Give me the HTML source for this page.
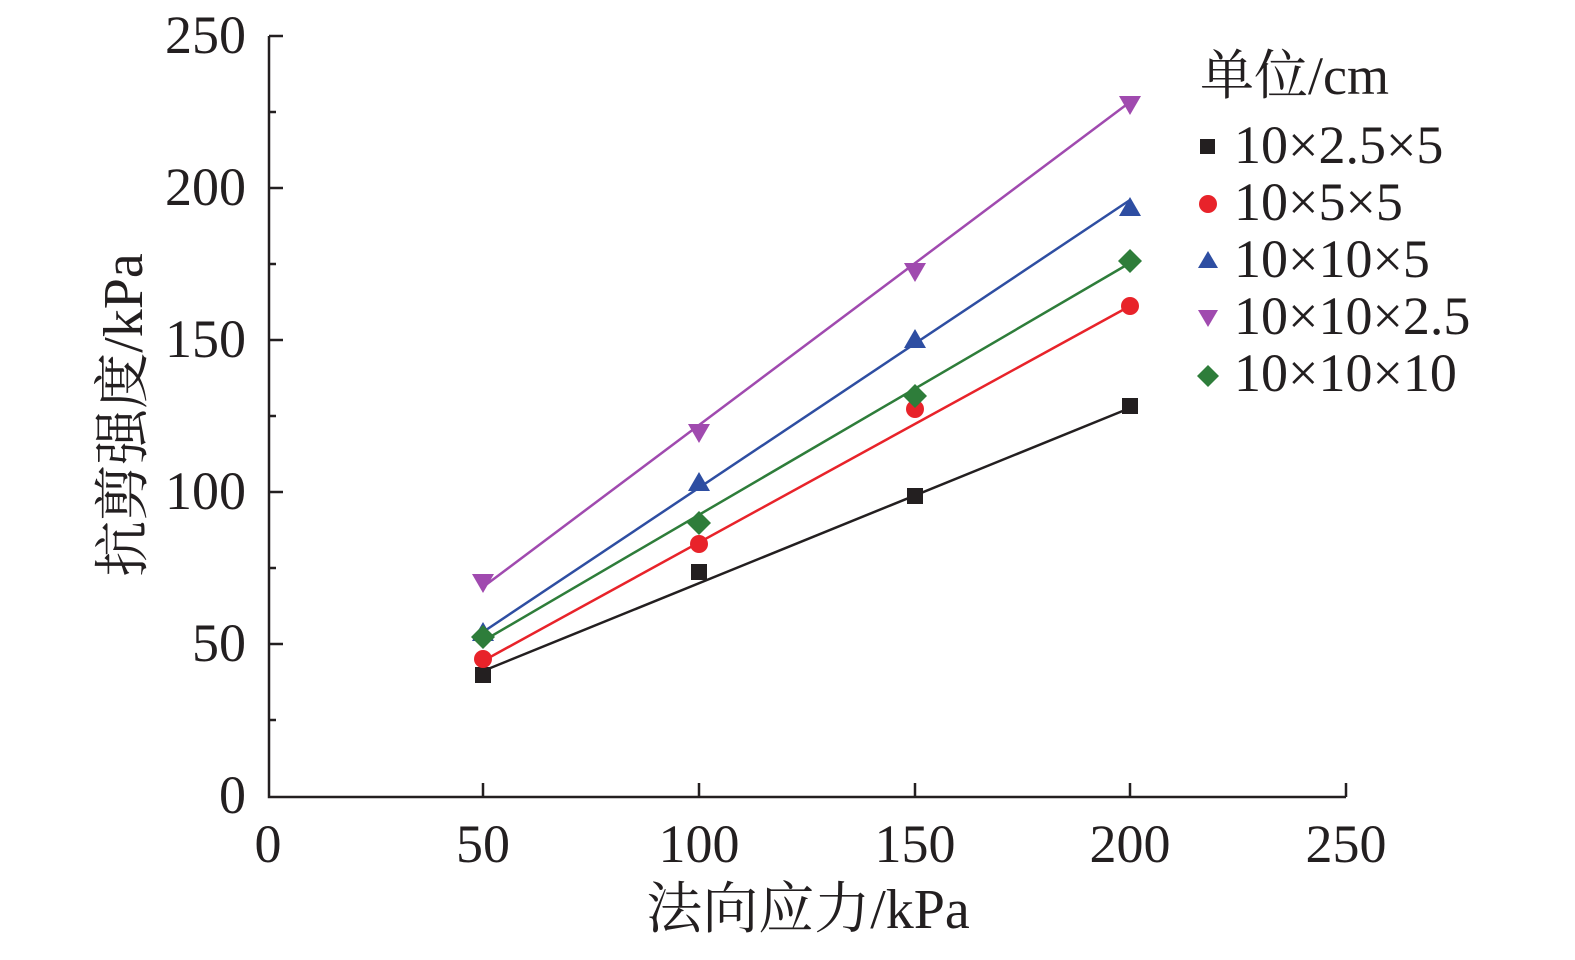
<!DOCTYPE html>
<html><head><meta charset="utf-8"><style>
body{margin:0;background:#fff}
text{font-family:"Liberation Serif","Noto Serif CJK SC",serif;fill:#231f20}
</style></head><body>
<svg width="1575" height="955" xmlns="http://www.w3.org/2000/svg">
<g stroke="#231f20" stroke-width="2.5" fill="none">
<path d="M269,36 V797 H1346"/>
<path d="M269,36 h14 M269,188 h14 M269,340 h14 M269,492 h14 M269,644 h14 M269,112 h7 M269,264 h7 M269,416 h7 M269,568 h7 M269,720 h7"/>
<path d="M483,797 v-14 M699,797 v-14 M915,797 v-14 M1130,797 v-14 M1346,797 v-14"/>
</g>
<g font-size="54" text-anchor="end">
<text x="246" y="53">250</text><text x="246" y="205">200</text><text x="246" y="357">150</text><text x="246" y="509">100</text><text x="246" y="661">50</text><text x="246" y="813">0</text>
</g>
<g font-size="54" text-anchor="middle">
<text x="268" y="862">0</text><text x="483" y="862">50</text><text x="699" y="862">100</text><text x="915" y="862">150</text><text x="1130" y="862">200</text><text x="1346" y="862">250</text>
</g>
<text x="808" y="928" font-size="56" text-anchor="middle">法向应力/kPa</text>
<text font-size="56" text-anchor="middle" transform="translate(142,415) rotate(-90)">抗剪强度/kPa</text>
<g stroke-width="2.5">
<line x1="483" y1="671" x2="1130" y2="408" stroke="#231f20"/>
<line x1="483" y1="661" x2="1130" y2="306" stroke="#e8232a"/>
<line x1="483" y1="632" x2="1130" y2="200" stroke="#2e4ea2"/>
<line x1="483" y1="587" x2="1130" y2="102" stroke="#a04aaf"/>
<line x1="483" y1="641" x2="1130" y2="263" stroke="#2e7d3a"/>
</g>
<g fill="#231f20"><rect x="475" y="667" width="16" height="16"/><rect x="691" y="564" width="16" height="16"/><rect x="907" y="488" width="16" height="16"/><rect x="1122" y="398" width="16" height="16"/></g>
<g fill="#e8232a"><circle cx="483" cy="659" r="9"/><circle cx="699" cy="544" r="9"/><circle cx="915" cy="409" r="9"/><circle cx="1130" cy="306" r="9"/></g>
<g fill="#2e4ea2"><path d="M483,622 l11,19 h-22z"/><path d="M699,472 l11,19 h-22z"/><path d="M915,329 l11,19 h-22z"/><path d="M1130,197 l11,19 h-22z"/></g>
<g fill="#a04aaf"><path d="M483,593 l11,-19 h-22z"/><path d="M699,443 l11,-19 h-22z"/><path d="M915,282 l11,-19 h-22z"/><path d="M1130,115 l11,-19 h-22z"/></g>
<g fill="#2e7d3a"><path d="M483,625 l12,12 -12,12 -12,-12z"/><path d="M699,511 l12,12 -12,12 -12,-12z"/><path d="M915,384 l12,12 -12,12 -12,-12z"/><path d="M1130,249 l12,12 -12,12 -12,-12z"/></g>
<g font-size="54">
<text x="1200" y="94">单位/cm</text>
<rect x="1200" y="139" width="15" height="15" fill="#231f20"/><text x="1234" y="163">10×2.5×5</text>
<circle cx="1208" cy="204" r="9" fill="#e8232a"/><text x="1234" y="220">10×5×5</text>
<path d="M1208,251 l10,17 h-20z" fill="#2e4ea2"/><text x="1234" y="277">10×10×5</text>
<path d="M1208,327 l10,-17 h-20z" fill="#a04aaf"/><text x="1234" y="334">10×10×2.5</text>
<path d="M1208,365 l11,11 -11,11 -11,-11z" fill="#2e7d3a"/><text x="1234" y="391">10×10×10</text>
</g>
</svg>
</body></html>
